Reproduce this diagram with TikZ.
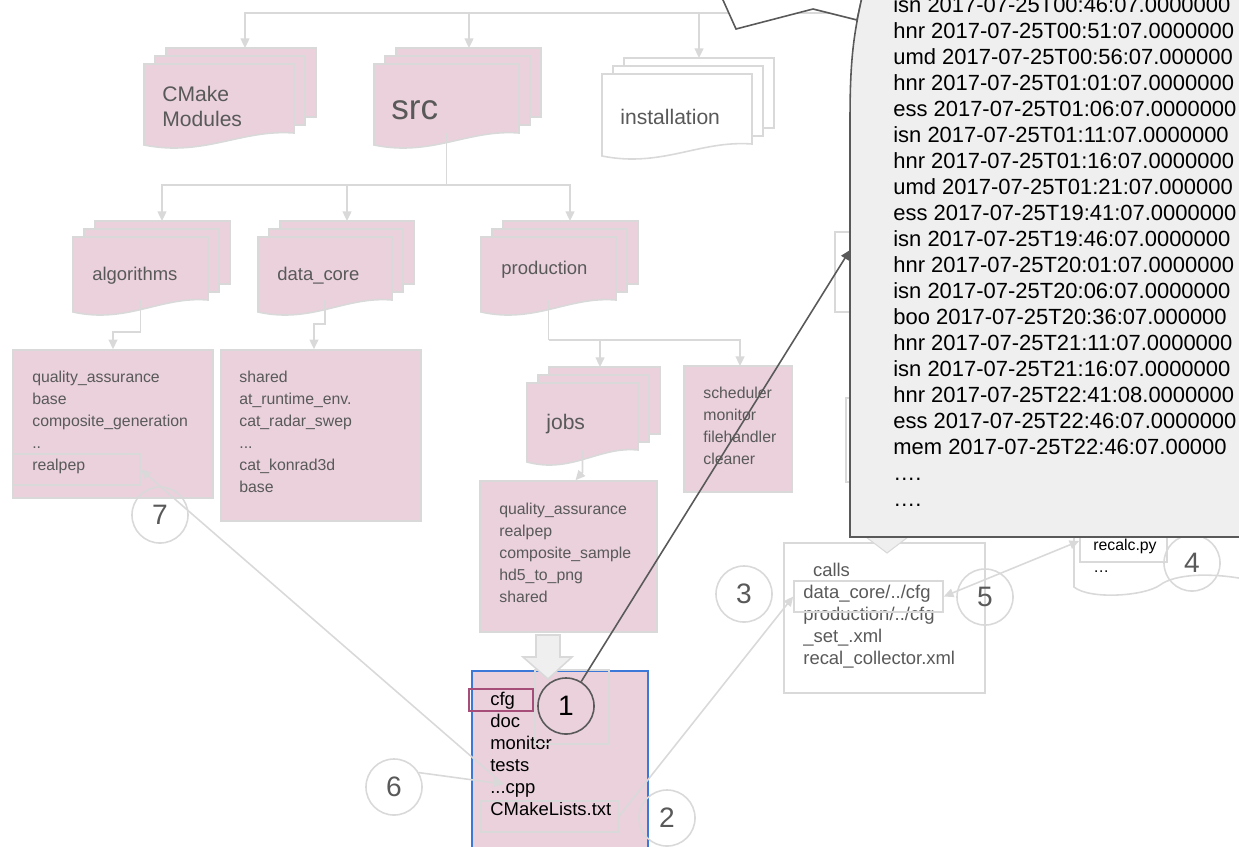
\documentclass[tikz,border=0pt]{standalone}
\usepackage{fontspec}
\setmainfont{Liberation Sans}
\usepackage{xcolor}
\usetikzlibrary{arrows.meta,fit,positioning}

\definecolor{pinkfill}{HTML}{EAD1DC}
\definecolor{edgegray}{HTML}{D9D9D9}
\definecolor{textgray}{HTML}{595959}
\definecolor{notegray}{HTML}{EFEFEF}
\definecolor{bluedge}{HTML}{3C78D8}
\definecolor{cfgedge}{HTML}{A64D79}

% three stacked sheets, the front one with a wavy bottom
% #1 name, #2 x, #3 y (top left of front sheet), #4 width, #5 height, #6 fill
\newcommand{\sheetstack}[6]{%
  \filldraw[sheet, fill=#6] (#2+22,#3-16) rectangle ++(#4,#5);
  \filldraw[sheet, fill=#6] (#2+11,#3-8) rectangle ++(#4,#5);
  \filldraw[sheet, fill=#6] (#2,#3) -- ++(#4,0) -- ++(0,#5)
    .. controls +(-0.35*#4,-4) and +(0.4*#4,12) .. ++(-#4,12) -- cycle;
  \node[fit={(#2,#3) (#2+#4,#3+#5)}, inner sep=0pt] (#1) {};
  \node[fit={(#2+22,#3-16) (#2+22+#4,#3-16+#5)}, inner sep=0pt] (#1-back) {};
}

\begin{document}
\begin{tikzpicture}[x=0.02cm, y=-0.02cm, >={Triangle[length=5.5pt,width=5pt]},
    conn/.style={draw=edgegray, line width=1.1pt},
    thinconn/.style={draw=edgegray, line width=0.9pt},
    darkconn/.style={draw=textgray, line width=0.9pt},
    sheet/.style={draw=edgegray, line width=0.9pt},
    stacklabel/.style={anchor=west, align=left, inner sep=0pt, text=textgray},
    listbox/.style={draw=edgegray, fill=pinkfill, line width=0.9pt, inner sep=0pt},
    innerbox/.style={draw=edgegray, line width=0.9pt, inner sep=0pt},
    listtext/.style={anchor=north west, align=left, inner sep=0pt, text=textgray, font=\fontsize{9}{12.5}\selectfont},
    calltext/.style={anchor=north west, align=left, inner sep=0pt, font=\fontsize{10.5}{12.5}\selectfont},
    numcircle/.style={circle, draw=edgegray, line width=0.9pt, minimum size=31.9pt, inner sep=0pt, text=textgray, font=\fontsize{16}{19}\selectfont},
    logtext/.style={anchor=north west, align=left, inner sep=0pt, font=\fontsize{12.5}{14.8}\selectfont}]
    \useasboundingbox (0,0) rectangle (1239,846);
    \clip (0,0) rectangle (1239,846);

    % connectors of the tree, under the sheets
    \coordinate (root) at (880,13);
    \draw[conn,->] (root) -| (245,48);
    \draw[conn,->] (root -| 469,0) -- (469,48);
    \draw[conn,->] (root -| 699,0) -- (699,58);

    % top row
    \sheetstack{cmake}{144}{64}{150}{69}{pinkfill}
    \sheetstack{src}{374}{64}{145}{69}{pinkfill}
    \sheetstack{install}{602}{74}{150}{70}{white}
    \node[stacklabel, font=\fontsize{12}{14.2}\selectfont] (cmaketext) at (162,106) {CMake\\Modules};
    \node[stacklabel, font=\fontsize{20}{24}\selectfont] (srctext) at (391,110) {src};
    \node[stacklabel, font=\fontsize{12}{14.2}\selectfont] (installtext) at (620,117) {installation};

    % second row
    \draw[conn] (src.south) -- ++(0,52) coordinate (srcbus);
    \draw[conn,->] (srcbus) -| (162,221);
    \draw[conn,->] (srcbus) -| (347,221);
    \draw[conn,->] (srcbus) -| (570,221);
    \sheetstack{algo}{73}{237}{135}{63}{pinkfill}
    \sheetstack{core}{258}{237}{134}{63}{pinkfill}
    \sheetstack{prod}{481}{237}{135}{63}{pinkfill}
    \node[stacklabel, font=\fontsize{10.5}{12.5}\selectfont] (algotext) at (92,276) {algorithms};
    \node[stacklabel, font=\fontsize{10.5}{12.5}\selectfont] (coretext) at (277,276) {data\_core};
    \node[stacklabel, font=\fontsize{10.5}{12.5}\selectfont] (prodtext) at (501,270) {production};

    % folder contents
    \node[listbox, fit={(13,350) (213,498)}] (algolist) {};
    \node[listtext] (algoitems) at (32,371) {quality\_assurance\\base\\composite\_generation\\..\\realpep};
    \node[innerbox, fit={(13,454) (140,485)}] (realpep) {};
    \node[listbox, fit={(221,350) (421,521)}] (corelist) {};
    \node[listtext] (coreitems) at (239,371) {shared\\at\_runtime\_env.\\cat\_radar\_swep\\...\\cat\_konrad3d\\base};
    \draw[conn,->] (algo.south) -- ++(0,32) -| (algolist.north);
    \draw[conn,->] (core.south) -- ++(0,24) -| ([xshift=-4pt]corelist.north);

    % production
    \draw[conn] (prod.south) -- ++(0,40) coordinate (prodbus);
    \draw[conn,->] (prodbus) -| (600,367);
    \draw[conn,->] (prodbus) -| (740,366);
    \sheetstack{jobs}{527}{383}{111}{67}{pinkfill}
    \node[stacklabel, font=\fontsize{12}{14.2}\selectfont] (jobstext) at (546,424) {jobs};
    \node[listbox, fit={(684,366) (792,492)}] (schedbox) {};
    \node[listtext] (scheditems) at (703,387) {scheduler\\monitor\\filehandler\\cleaner};
    \node[listbox, fit={(480,481) (657,632)}] (jobslist) {};
    \node[listtext] (jobsitems) at (499,503) {quality\_assurance\\realpep\\composite\_sample\\hd5\_to\_png\\shared};
    \draw[conn,->] (jobs.south) -- ++(0,22) -- ([xshift=4pt]jobslist.north);

    % shapes hidden behind the log
    \filldraw[sheet, fill=white] (835,232) rectangle (900,312);
    \filldraw[sheet, fill=white] (846,398) rectangle (900,482);
    \draw[sheet] (1074,500) -- (1074,587) .. controls (1090,600) and (1145,596) .. (1160,585)
      .. controls (1175,574) and (1210,572) .. (1250,580);
    \node[innerbox, fill=white, fit={(1080,520) (1167,562)}] (recalcbox) {};
    \node[listtext, text=black] (recalcitems) at (1093,539) {recalc.py\\…};

    % config calls
    \node[innerbox, fit={(784,543) (985,693)}] (callsbox) {};
    \node[calltext, text=textgray] (callsitems) at (803,563) {\hspace*{5.5pt}calls\\data\_core/../cfg\\production/../cfg\\\_set\_.xml\\recal\_collector.xml};
    \node[innerbox, fit={(794,581) (943,612)}] (dcfg) {};

    % repository root
    \node[listbox, draw=bluedge, fit={(472,671) (648,870)}] (bluebox) {};
    \node[calltext, text=black] (blueitems) at (490,692) {cfg\\doc\\monitor\\tests\\...cpp\\CMakeLists.txt};
    \node[innerbox, draw=cfgedge, line width=1.1pt, fit={(469,689) (533,711)}] (cfgbox) {};
    \node[innerbox, fit={(535,670) (609,744)}] (cfgpeek) {};
    \node[innerbox, fit={(481,801) (618,832)}] (cmakelists) {};
    \filldraw[fill=notegray, draw=edgegray, line width=0.9pt] (536,635) -- (560,635) -- (560,657) -- (572,657)
      -- (548,679) -- (523,657) -- (536,657) -- cycle;
    \coordinate (cppmark) at (503,784);

    % numbered markers
    \node[numcircle, draw=textgray, text=black] (c1) at (566,706) {1};
    \node[numcircle] (c2) at (667,818) {2};
    \node[numcircle] (c3) at (744,594) {3};
    \node[numcircle] (c4) at (1192,563) {4};
    \node[numcircle] (c5) at (985,597) {5};
    \node[numcircle] (c6) at (394,787) {6};
    \node[numcircle] (c7) at (160,515) {7};

    \draw[thinconn,->] (c6.30) -- (cppmark);
    \draw[thinconn,->] (cppmark) -- (realpep.east);
    \draw[thinconn,->] (cmakelists.east) -- (dcfg.west);
    \draw[thinconn,<->] (dcfg.east) -- (recalcbox.west);

    % log callout
    \filldraw[fill=notegray, draw=edgegray, line width=0.6pt] (866,537) -- (887,553) -- (908,537) -- cycle;
    \coordinate (logpin) at (850,250);
    \draw[darkconn,->] (c1) -- (logpin);
    \filldraw[fill=white, draw=textgray, line width=0.9pt] (714,-20) -- (736,29) -- (813,9) -- (857,20) -- (866,-20);
    \filldraw[fill=notegray, draw=textgray, line width=0.9pt] (1260,537) -- (850,537) -- (850,120)
      .. controls (850,55) and (854,30) .. (866,-20) -- (1260,-20) -- cycle;
    \node[logtext] (logitems) at (893,-4) {isn 2017-07-25T00:46:07.0000000\\hnr 2017-07-25T00:51:07.0000000\\umd 2017-07-25T00:56:07.000000\\hnr 2017-07-25T01:01:07.0000000\\ess 2017-07-25T01:06:07.0000000\\isn 2017-07-25T01:11:07.0000000\\hnr 2017-07-25T01:16:07.0000000\\umd 2017-07-25T01:21:07.000000\\ess 2017-07-25T19:41:07.0000000\\isn 2017-07-25T19:46:07.0000000\\hnr 2017-07-25T20:01:07.0000000\\isn 2017-07-25T20:06:07.0000000\\boo 2017-07-25T20:36:07.000000\\hnr 2017-07-25T21:11:07.0000000\\isn 2017-07-25T21:16:07.0000000\\hnr 2017-07-25T22:41:08.0000000\\ess 2017-07-25T22:46:07.0000000\\mem 2017-07-25T22:46:07.00000\\….\\….};
\end{tikzpicture}
\end{document}
